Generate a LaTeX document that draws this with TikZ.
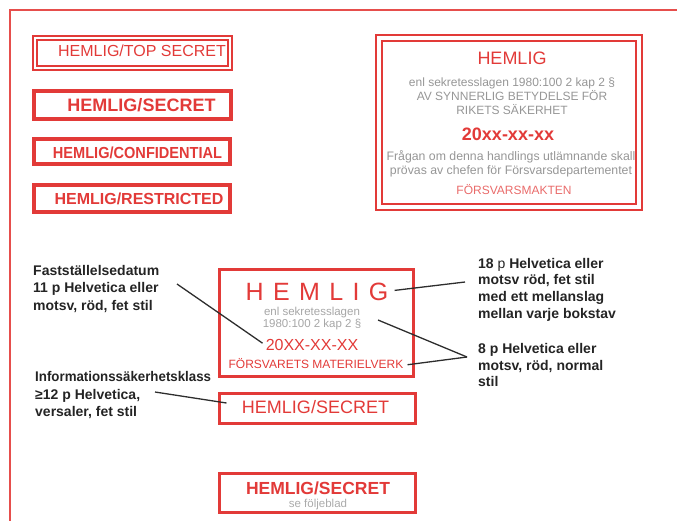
\documentclass[tikz,border=0pt]{standalone}
\usepackage{fontspec}
\setmainfont{Liberation Sans}
\usepackage{graphicx}
\usetikzlibrary{calc}

\definecolor{stampred}{RGB}{226,58,56}
\definecolor{framered}{RGB}{230,78,76}
\definecolor{faint}{RGB}{150,150,150}
\definecolor{ink}{RGB}{36,36,36}
\definecolor{leadgray}{RGB}{45,45,45}

\newcommand\fsz[2]{\fontsize{#1}{#2}\selectfont}

\begin{document}
\begin{tikzpicture}[x=1pt,y=-1pt,
  stamp/.style={draw=stampred, inner sep=0pt, outer sep=0pt, line width=#1},
  stamp/.default=3.5pt,
  dblstamp/.style={draw=stampred, double=white, double distance=#1,
    line width=1.8pt, inner sep=0pt, outer sep=0pt},
  dblstamp/.default=2.8pt,
  redtxt/.style={text=stampred, inner sep=0pt, anchor=base},
  % multi-line nodes: the base anchor sits on the last line
  greytxt/.style={text=faint, inner sep=0pt, anchor=base, align=center},
  note/.style={text=ink, inner sep=0pt, anchor=base west, align=left,
    font=\fsz{14}{#1}\bfseries},
  note/.default=17.4pt,
  lead/.style={draw=leadgray, line width=1.3pt},
  frame/.style={draw=framered, line width=2pt}
]
\useasboundingbox (0,0) rectangle (677,520);

% page frame
\coordinate (frameBL) at (10,521);
\coordinate (frameTL) at (10,10);
\coordinate (frameTR) at (678,10);
\draw[frame] (frameBL) -- (frameTL) -- (frameTR);

% ---- left column: classification marks ----
\node[dblstamp, minimum width=195pt, minimum height=30pt] (boxTS) at (132.5,53) {};
\node[redtxt, font=\fsz{16}{16}] (txtTS) at (142,56.7) {HEMLIG/TOP SECRET};

\node[stamp, minimum width=197pt, minimum height=28pt] (boxS) at (132.5,105) {};
\node[redtxt, font=\fsz{18}{18}\bfseries] (txtS) at (141.5,111) {HEMLIG/SECRET};

\node[stamp, minimum width=196pt, minimum height=25pt] (boxC) at (132,151.5) {};
\node[redtxt, font=\fsz{16}{16}\bfseries] (txtC) at (137.5,158.3) {\scalebox{0.91}[1]{HEMLIG/CONFIDENTIAL}};

\node[stamp, minimum width=196pt, minimum height=27pt] (boxR) at (132,198.5) {};
\node[redtxt, font=\fsz{16}{16}\bfseries] (txtR) at (139,204) {HEMLIG/RESTRICTED};

% ---- top right: full stamp ----
\node[dblstamp=4pt, line width=2pt, minimum width=260pt, minimum height=169pt] (boxFull) at (509,122.5) {};
\node[redtxt, font=\fsz{18}{18}] (fullHead) at (512,64.5) {HEMLIG};
\node[greytxt, font=\fsz{12}{13.8}] (fullLaw) at (512,114.3)
  {enl sekretesslagen 1980:100 2 kap 2 §\\AV SYNNERLIG BETYDELSE FÖR\\RIKETS SÄKERHET};
\node[redtxt, font=\fsz{18}{18}\bfseries] (fullDate) at (508,140) {20xx-xx-xx};
\node[greytxt, font=\fsz{12.3}{13.4}] (fullNote) at (511,174)
  {Frågan om denna handlings utlämnande skall\\prövas av chefen för Försvarsdepartementet};
\node[redtxt, text=stampred!75, font=\fsz{12}{12}] (fullOrg) at (514,194) {FÖRSVARSMAKTEN};

% ---- centre: annotated stamp ----
\node[stamp=2.6pt, minimum width=194pt, minimum height=107pt] (boxMid) at (316.5,323) {};
\node[redtxt, font=\fsz{25}{25}] (midHead) at (317,300)
  {H\hskip9.4pt E\hskip9.4pt M\hskip9.4pt L\hskip9.4pt I\hskip9.4pt G};
\node[greytxt, text=faint!85, font=\fsz{11.5}{12.3}] (midLaw) at (312,327.3)
  {enl sekretesslagen\\1980:100 2 kap 2 §};
\node[redtxt, font=\fsz{16}{16}] (midDate) at (312,350.7) {20XX-XX-XX};
\node[redtxt, font=\fsz{12}{12}] (midOrg) at (316,368.7) {FÖRSVARETS MATERIELVERK};

\node[stamp=2.6pt, minimum width=196pt, minimum height=30pt] (boxMidS) at (317.5,408.5) {};
\node[redtxt, font=\fsz{18}{18}] (midS) at (315.5,413.3) {HEMLIG/SECRET};

% ---- bottom: mark with reference line ----
\node[stamp=3pt, minimum width=196pt, minimum height=39pt] (boxLow) at (317.5,493) {};
\node[redtxt, font=\fsz{17.5}{17.5}\bfseries] (lowS) at (318,494) {HEMLIG/SECRET};
\node[greytxt, text=faint!80, font=\fsz{11.5}{11.5}] (lowRef) at (318,507) {se följeblad};

% ---- explanatory notes ----
\node[note] (noteDate) at (33,310)
  {Fastställelsedatum\\11 p Helvetica eller\\motsv, röd, fet stil};
\node[note] (noteClass) at (35,416.7)
  {\scalebox{0.95}[1]{Informationssäkerhetsklass}\\≥12 p Helvetica,\\versaler, fet stil};
\node[note=16.7pt] (noteHead) at (478,318.3)
  {18 {\mdseries p} Helvetica eller\\motsv röd, fet stil\\med ett mellanslag\\mellan varje bokstav};
\node[note=16.7pt] (noteSmall) at (478,386.7)
  {8 p Helvetica eller\\motsv, röd, normal\\stil};

% leader lines
\coordinate (dateFrom) at (177,284);
\coordinate (classFrom) at (155,392);
\coordinate (headTo) at (465,282);
\coordinate (smallTo) at (467,357);
\coordinate (lawFrom) at (378,320);

\draw[lead] (dateFrom) -- ($(midDate.west)+(-3,-2)$);
\draw[lead] (classFrom) -- ($(boxMidS.west)+(7,-5.5)$);
\draw[lead] ($(midHead.east)+(6,-1)$) -- (headTo);
\draw[lead] (lawFrom) -- (smallTo);
\draw[lead] ($(midOrg.east)+(4,1)$) -- (smallTo);
\end{tikzpicture}
\end{document}
